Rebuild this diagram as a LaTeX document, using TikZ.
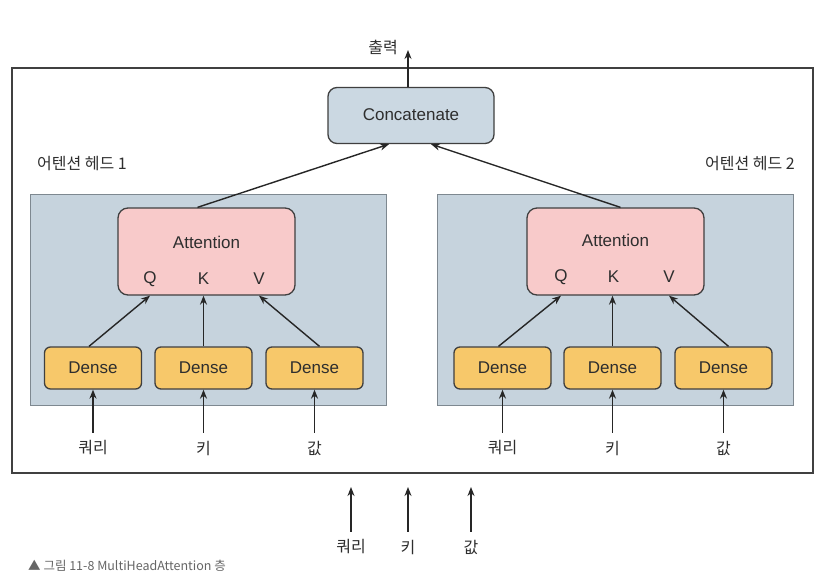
\documentclass[tikz,border=0pt]{standalone}
\usepackage{fontspec}
\setmainfont{Liberation Sans}
\newfontfamily\kr{Noto Sans CJK KR}
\usetikzlibrary{arrows.meta,calc}
\definecolor{panelfill}{HTML}{C6D3DD}
\definecolor{panelline}{HTML}{7E8890}
\definecolor{catfill}{HTML}{CBD8E2}
\definecolor{attfill}{HTML}{F8CACA}
\definecolor{densefill}{HTML}{F7C86A}
\definecolor{boxline}{HTML}{3F3F3F}
\definecolor{txt}{HTML}{2E2E2E}
\begin{document}
\begin{tikzpicture}[x=1pt,y=-1pt,
  lbl/.style={font=\fontsize{17}{19}\selectfont, text=txt, inner sep=0pt},
  krl/.style={font=\kr\fontsize{16}{18}\selectfont, text=txt, inner sep=0pt},
  panelbox/.style={draw=panelline, fill=panelfill, line width=1pt},
  catbox/.style={draw=boxline, fill=catfill, line width=1.3pt, rounded corners=9pt, minimum width=166pt, minimum height=56pt, inner sep=0pt},
  attbox/.style={draw=boxline, fill=attfill, line width=1.3pt, rounded corners=10pt, minimum width=177pt, minimum height=87pt, inner sep=0pt},
  densebox/.style={draw=boxline, fill=densefill, line width=1.3pt, rounded corners=6pt, minimum width=97pt, minimum height=42pt, inner sep=0pt, font=\fontsize{17}{19}\selectfont, text=txt},
  arr/.style={draw=black!85, line width=1.4pt, -{Stealth[length=9pt,width=7pt]}}
]
\useasboundingbox (0,0) rectangle (835,571);
\fill[white] (0,0) rectangle (835,571);

% outer frame
\draw[draw=black!75, line width=1.4pt] (12,68) rectangle (813,473);

% head panels
\draw[panelbox] (30,194) rectangle (386,405);
\draw[panelbox] (437,194) rectangle (793,405);

% concatenate
\node[catbox] (cat) at (411,115.5) {};
\node[lbl] (cattext) at (411,115) {Concatenate};
\node[krl] (outl) at (383,47) {출력};
\coordinate (outtip) at (408,50);
\draw[arr] (cat.north -| outtip) -- (outtip);

% head labels
\node[krl, anchor=west] (h1) at (37,164) {어텐션 헤드 1};
\node[krl, anchor=east] (h2) at (795,164) {어텐션 헤드 2};

% attention boxes
\node[attbox] (att1) at (206.5,251.5) {};
\node[lbl] (att1t) at (206.5,242) {Attention};
\node[lbl] (q1) at (150,279) {Q};
\node[lbl] (k1) at (203.5,279) {K};
\node[lbl] (v1) at (259,279) {V};

\node[attbox] (att2) at (615.5,251.5) {};
\node[lbl] (att2t) at (615.5,240) {Attention};
\node[lbl] (q2) at (561,277) {Q};
\node[lbl] (k2) at (613.5,277) {K};
\node[lbl] (v2) at (669,277) {V};

% dense boxes
\node[densebox] (d11) at (93,368) {Dense};
\node[densebox] (d12) at (203.5,368) {Dense};
\node[densebox] (d13) at (314.5,368) {Dense};
\node[densebox] (d21) at (502.5,368) {Dense};
\node[densebox] (d22) at (612.5,368) {Dense};
\node[densebox] (d23) at (723.5,368) {Dense};

% dense -> attention
\draw[arr] ($(d11.north)+(-4,0)$) -- (att1.south -| q1);
\draw[arr] (d12.north) -- (att1.south -| d12.north);
\draw[arr] ($(d13.north)+(5,0)$) -- (att1.south -| v1);
\draw[arr] ($(d21.north)+(-4,0)$) -- (att2.south -| q2);
\draw[arr] (d22.north) -- (att2.south -| d22.north);
\draw[arr] ($(d23.north)+(5,0)$) -- (att2.south -| v2);

% attention -> concatenate
\draw[arr] ($(att1.north)+(-9,0)$) -- ($(cat.south)+(-22,0)$);
\draw[arr] ($(att2.north)+(5,0)$) -- ($(cat.south)+(20,0)$);

% inputs into dense
\node[krl] (iq1) at (93,448) {쿼리};
\node[krl] (ik1) at (203.5,448) {키};
\node[krl] (iv1) at (314.5,448) {값};
\node[krl] (iq2) at (502.5,448) {쿼리};
\node[krl] (ik2) at (612.5,448) {키};
\node[krl] (iv2) at (723.5,448) {값};
\foreach \n/\d in {iq1/d11, ik1/d12, iv1/d13, iq2/d21, ik2/d22, iv2/d23}{
  \draw[arr] ($(\n.north)+(0,-8)$) -- (\d.south);
}

% bottom inputs
\node[krl] (bq) at (351,547) {쿼리};
\node[krl] (bk) at (408,547) {키};
\node[krl] (bv) at (471,547) {값};
\coordinate (bqt) at (351,487);
\coordinate (bkt) at (408,487);
\coordinate (bvt) at (471,487);
\draw[arr] ($(bq.north)+(0,-8)$) -- (bqt);
\draw[arr] ($(bk.north)+(0,-8)$) -- (bkt);
\draw[arr] ($(bv.north)+(0,-8)$) -- (bvt);

% caption
\node[anchor=west, inner sep=0pt, font=\kr\fontsize{12.5}{14}\selectfont, text=black!60] (cap) at (28,566) {▲ 그림 11-8 MultiHeadAttention 층};
\end{tikzpicture}
\end{document}
